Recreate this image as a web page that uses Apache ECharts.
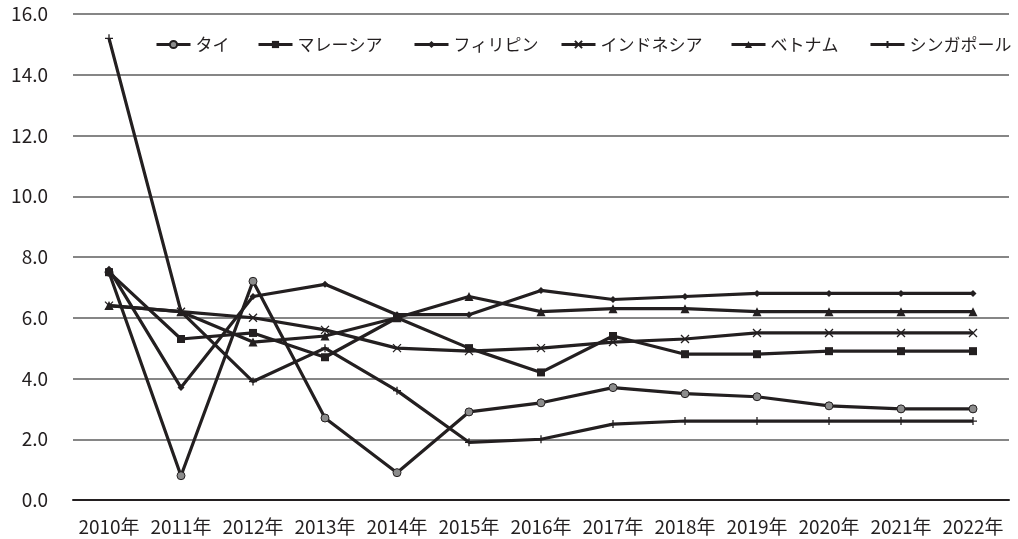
<!DOCTYPE html>
<html>
<head>
<meta charset="utf-8">
<script src="https://cdn.jsdelivr.net/npm/echarts@6/dist/echarts.min.js"></script>
<style>
  html, body { margin: 0; padding: 0; background: #fff; }
  #chart { width: 1018px; height: 539px; }
</style>
</head>
<body>
<div id="chart"></div>
<script>
// 実質GDP成長率（%）
const years = ['2010年', '2011年', '2012年', '2013年', '2014年', '2015年', '2016年',
               '2017年', '2018年', '2019年', '2020年', '2021年', '2022年'];
const countries   = ['タイ', 'マレーシア', 'フィリピン', 'インドネシア', 'ベトナム', 'シンガポール'];
const thailand    = [7.5, 0.8, 7.2, 2.7, 0.9, 2.9, 3.2, 3.7, 3.5, 3.4, 3.1, 3.0, 3.0];
const malaysia    = [7.5, 5.3, 5.5, 4.7, 6.0, 5.0, 4.2, 5.4, 4.8, 4.8, 4.9, 4.9, 4.9];
const philippines = [7.6, 3.7, 6.7, 7.1, 6.1, 6.1, 6.9, 6.6, 6.7, 6.8, 6.8, 6.8, 6.8];
const indonesia   = [6.4, 6.2, 6.0, 5.6, 5.0, 4.9, 5.0, 5.2, 5.3, 5.5, 5.5, 5.5, 5.5];
const vietnam     = [6.4, 6.2, 5.2, 5.4, 6.0, 6.7, 6.2, 6.3, 6.3, 6.2, 6.2, 6.2, 6.2];
const singapore   = [15.2, 6.2, 3.9, 5.0, 3.6, 1.9, 2.0, 2.5, 2.6, 2.6, 2.6, 2.6, 2.6];

const INK = '#231f20';
const FONT = '"Noto Sans CJK JP", "Noto Sans", sans-serif';

function makeSeries(name, data, symbol, size, fill, border) {
  return {
    name: name,
    type: 'line',
    data: data,
    symbol: symbol,
    symbolSize: size,
    showAllSymbol: true,
    lineStyle: { color: INK, width: 3.2 },
    itemStyle: { color: fill, borderColor: INK, borderWidth: border },
    emphasis: { disabled: true },
    animation: false
  };
}

// one legend entry per country, laid out in a single row
const legendLeft = [155, 257, 413, 560, 730, 869];
const legends = countries.map((name, i) => ({
  left: legendLeft[i],
  top: 36,
  padding: 0,
  itemWidth: 34,
  itemHeight: 9,
  lineStyle: { width: 3 },
  textStyle: { fontFamily: FONT, fontSize: 17, color: INK },
  data: [name]
}));

const chart = echarts.init(document.getElementById('chart'));
chart.setOption({
  backgroundColor: '#fff',
  animation: false,
  grid: { left: 73, right: 9, top: 14, bottom: 39 },
  legend: legends,
  xAxis: {
    type: 'category',
    data: years,
    boundaryGap: true,
    axisLine: { show: true, lineStyle: { color: INK, width: 2 } },
    axisTick: { show: false },
    axisLabel: { fontFamily: FONT, fontSize: 19, color: INK, margin: 17, interval: 0 }
  },
  yAxis: {
    type: 'value',
    min: 0,
    max: 16,
    interval: 2,
    axisLine: { show: false },
    axisTick: { show: false },
    splitLine: { lineStyle: { color: '#5e5e5e', width: 1.6 } },
    axisLabel: {
      fontFamily: FONT, fontSize: 19, color: INK, margin: 25,
      formatter: v => v.toFixed(1)
    }
  },
  series: [
    makeSeries(countries[0], thailand, 'circle', 8, '#8c8c8c', 1),
    makeSeries(countries[1], malaysia, 'rect', 8, INK, 0),
    makeSeries(countries[2], philippines, 'diamond', 7, INK, 0),
    makeSeries(countries[3], indonesia, 'path://M0,0L10,10M10,0L0,10', 8, INK, 1.3),
    makeSeries(countries[4], vietnam, 'triangle', 9, INK, 0),
    makeSeries(countries[5], singapore, 'path://M5,0L5,10M0,5L10,5', 8, INK, 1.3)
  ]
});
</script>
</body>
</html>
